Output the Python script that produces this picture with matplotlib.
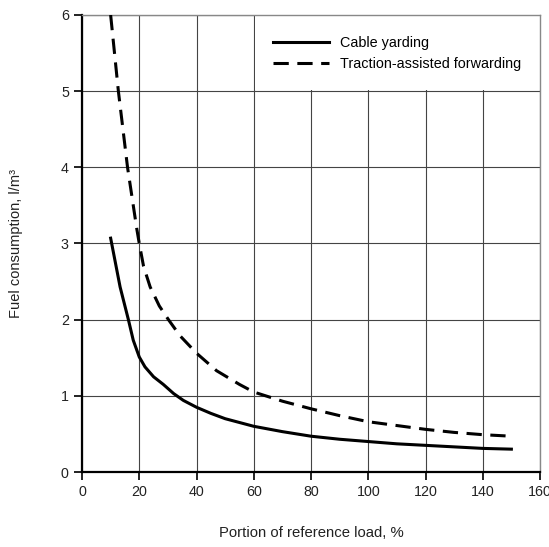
import matplotlib
matplotlib.use("Agg")
import matplotlib.pyplot as plt
from matplotlib.patches import Rectangle

plt.rcParams.update({
    "font.family": ["Liberation Sans", "DejaVu Sans"],
    "font.size": 10,
})

# portion of reference load (%) and fuel use (l/m3)
cable_x = [10, 13.3, 16.2, 17.9, 20, 22, 25, 28.4, 32, 35.4, 40, 45, 50, 60, 70, 80, 90, 100, 110, 120, 130, 140, 150]
cable_y = [3.07, 2.43, 2.0, 1.73, 1.51, 1.38, 1.25, 1.15, 1.03, 0.94, 0.85, 0.77, 0.70, 0.60, 0.53, 0.47, 0.43, 0.40, 0.37, 0.35, 0.33, 0.31, 0.30]

traction_x = [10, 12.7, 15.9, 19.1, 20, 21.5, 23.8, 27, 30.2, 34.2, 40, 47, 55, 60, 70, 80, 90, 100, 110, 120, 130, 140, 150]
traction_y = [6.0, 5.0, 4.0, 3.2, 3.0, 2.7, 2.43, 2.18, 2.0, 1.79, 1.56, 1.33, 1.15, 1.05, 0.93, 0.83, 0.74, 0.66, 0.61, 0.56, 0.52, 0.49, 0.47]

x_ticks = [0, 20, 40, 60, 80, 100, 120, 140, 160]
y_ticks = [0, 1, 2, 3, 4, 5, 6]

fig = plt.figure(figsize=(5.49, 5.47), dpi=100)
ax = fig.add_axes([0.1494, 0.1371, 0.8342, 0.8355])

ax.plot(cable_x, cable_y, color="black", lw=2.2, label="Cable yarding",
        solid_joinstyle="round", zorder=3)
ax.plot(traction_x, traction_y, color="black", lw=2.2, linestyle=(0, (5, 2.8)),
        label="Traction-assisted forwarding", zorder=3)

ax.set_xlim(0, 160)
ax.set_ylim(0, 6)
ax.set_xticks(x_ticks)
ax.set_yticks(y_ticks)
ax.grid(True, color="#444444", lw=0.8)
ax.set_axisbelow(True)

# white box behind legend hides grid in the top right cells
ax.add_patch(Rectangle((60.4, 5.02), 99.6, 0.98, facecolor="white", edgecolor="none", zorder=2))

for s in ["top", "right"]:
    ax.spines[s].set_color("#888888")
    ax.spines[s].set_linewidth(1.0)
for s in ["left", "bottom"]:
    ax.spines[s].set_color("black")
    ax.spines[s].set_linewidth(1.6)

ax.tick_params(direction="out", length=6, width=1.4, labelsize=10.3, colors="#222222")

ax.set_xlabel("Portion of reference load, %", fontsize=10.7, labelpad=19, color="#222222")
ax.set_ylabel("Fuel consumption, l/m³", fontsize=10.5, labelpad=27, color="#222222")

leg = ax.legend(loc="upper left", bbox_to_anchor=(0.417, 0.953), frameon=False,
                borderpad=0, borderaxespad=0,
                fontsize=10.4, handlelength=3.9, handletextpad=0.75, labelspacing=0.44)
leg.set_zorder(4)

fig.savefig("out.png", dpi=100)
